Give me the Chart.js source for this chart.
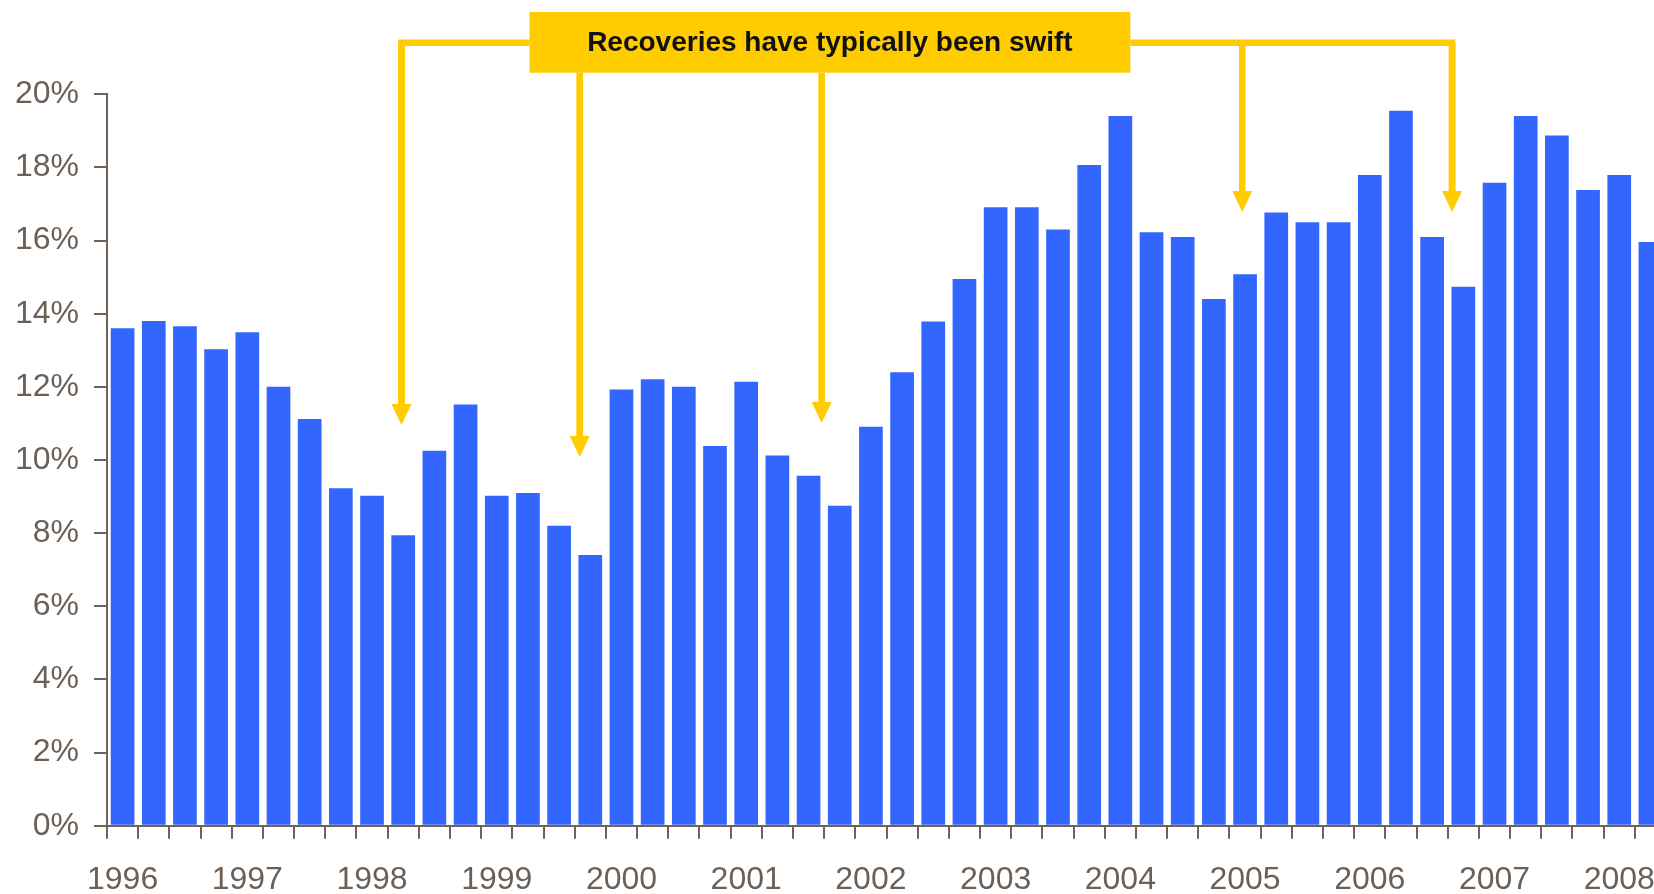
<!DOCTYPE html>
<html>
<head>
<meta charset="utf-8">
<title>Recoveries have typically been swift</title>
<script src="https://cdn.jsdelivr.net/npm/chart.js@4.4.1/dist/chart.umd.min.js"></script>
<style>
  html, body { margin: 0; padding: 0; background: #fff; overflow: hidden; }
  #wrap { position: relative; width: 1666px; height: 894px; }
</style>
</head>
<body>
<div id="wrap"><canvas id="mycanvas"></canvas></div>
<script>
// quarterly categories, 1996 Q1 .. 2008 Q2 (last bar is cut by the picture edge)
var categories = [
  '1996 Q1','1996 Q2','1996 Q3','1996 Q4',
  '1997 Q1','1997 Q2','1997 Q3','1997 Q4',
  '1998 Q1','1998 Q2','1998 Q3','1998 Q4',
  '1999 Q1','1999 Q2','1999 Q3','1999 Q4',
  '2000 Q1','2000 Q2','2000 Q3','2000 Q4',
  '2001 Q1','2001 Q2','2001 Q3','2001 Q4',
  '2002 Q1','2002 Q2','2002 Q3','2002 Q4',
  '2003 Q1','2003 Q2','2003 Q3','2003 Q4',
  '2004 Q1','2004 Q2','2004 Q3','2004 Q4',
  '2005 Q1','2005 Q2','2005 Q3','2005 Q4',
  '2006 Q1','2006 Q2','2006 Q3','2006 Q4',
  '2007 Q1','2007 Q2','2007 Q3','2007 Q4',
  '2008 Q1','2008 Q2'
];

var values = [
  13.6, 13.8, 13.66, 13.03,
  13.49, 12.0, 11.12, 9.23,
  9.02, 7.94, 10.25, 11.52,
  9.02, 9.1, 8.2, 7.4,
  11.93, 12.21, 12.0, 10.38,
  12.14, 10.12, 9.57, 8.75,
  10.91, 12.4, 13.79, 14.95,
  16.91, 16.91, 16.3, 18.07,
  19.41, 16.23, 16.1, 14.4,
  15.08, 16.77, 16.5, 16.5,
  17.79, 19.55, 16.1, 14.74,
  17.58, 19.41, 18.87, 17.38,
  17.79, 15.96
];

var yearTicks = ['1996','1997','1998','1999','2000','2001','2002','2003','2004','2005','2006','2007','2008'];
var yTicks = [0, 2, 4, 6, 8, 10, 12, 14, 16, 18, 20];

// callout: positions in category index / percent units
var calloutText = 'Recoveries have typically been swift';
var calloutBox = { from: 13.05, to: 32.32, top: 22.25, bottom: 20.59 };
var calloutLineY = 21.41;
var arrowsFromLine = [ { x: 8.945, tip: 10.96 }, { x: 35.91, tip: 16.78 }, { x: 42.64, tip: 16.78 } ];
var arrowsFromBox = [ { x: 14.66, tip: 10.08 }, { x: 22.42, tip: 11.01 } ];

var axisColor = '#6e6259';
var textColor = '#6b5f56';
var yellow = '#ffcc00';

var callout = {
  id: 'callout',
  afterDraw: function(chart) {
    var ctx = chart.ctx;
    var xs = chart.scales.x, ys = chart.scales.y;
    var bx1 = xs.getPixelForValue(calloutBox.from), bx2 = xs.getPixelForValue(calloutBox.to);
    var by1 = ys.getPixelForValue(calloutBox.top), by2 = ys.getPixelForValue(calloutBox.bottom);
    var ly = ys.getPixelForValue(calloutLineY);
    var head = 21, half = 10;

    ctx.save();
    ctx.strokeStyle = yellow;
    ctx.fillStyle = yellow;
    ctx.lineWidth = 6.6;
    ctx.lineJoin = 'miter';

    function arrow(x, yStart, tipVal) {
      var tip = ys.getPixelForValue(tipVal);
      ctx.beginPath();
      ctx.moveTo(x, yStart);
      ctx.lineTo(x, tip - head + 1);
      ctx.stroke();
      ctx.beginPath();
      ctx.moveTo(x - half, tip - head);
      ctx.lineTo(x + half, tip - head);
      ctx.lineTo(x, tip);
      ctx.closePath();
      ctx.fill();
    }

    // left connector
    var lx = xs.getPixelForValue(arrowsFromLine[0].x);
    ctx.beginPath();
    ctx.moveTo(bx1, ly);
    ctx.lineTo(lx, ly);
    ctx.lineTo(lx, ys.getPixelForValue(arrowsFromLine[0].tip) - head + 1);
    ctx.stroke();
    arrow(lx, ly, arrowsFromLine[0].tip);

    // right connector
    var rx = xs.getPixelForValue(arrowsFromLine[2].x);
    ctx.beginPath();
    ctx.moveTo(bx2, ly);
    ctx.lineTo(rx, ly);
    ctx.lineTo(rx, ys.getPixelForValue(arrowsFromLine[2].tip) - head + 1);
    ctx.stroke();
    arrow(rx, ly, arrowsFromLine[2].tip);
    arrow(xs.getPixelForValue(arrowsFromLine[1].x), ly, arrowsFromLine[1].tip);

    arrowsFromBox.forEach(function(a) {
      arrow(xs.getPixelForValue(a.x), by2, a.tip);
    });

    // box + text
    ctx.fillRect(bx1, by1, bx2 - bx1, by2 - by1);
    ctx.fillStyle = '#111';
    ctx.font = 'bold 28px "Liberation Sans", Arial, sans-serif';
    ctx.textAlign = 'center';
    ctx.textBaseline = 'middle';
    ctx.fillText(calloutText, (bx1 + bx2) / 2, (by1 + by2) / 2 + 1);
    ctx.restore();
  }
};

var ctx = document.getElementById('mycanvas');

var barGraph = new Chart(ctx, {
  type: 'bar',
  data: {
    labels: categories,
    datasets: [{
      label: 'Share',
      data: values,
      backgroundColor: '#3366ff',
      borderWidth: 0,
      barPercentage: 0.76,
      categoryPercentage: 1.0
    }]
  },
  options: {
    responsive: true,
    maintainAspectRatio: false,
    animation: false,
    layout: { padding: { top: 94.3, left: 0, right: 0, bottom: 0 } },
    plugins: {
      legend: { display: false },
      tooltip: { enabled: false }
    },
    scales: {
      x: {
        offset: true,
        border: { display: true, color: axisColor, width: 2 },
        grid: {
          offset: true,
          drawOnChartArea: false,
          drawTicks: true,
          tickLength: 13,
          color: axisColor,
          lineWidth: 2
        },
        ticks: {
          autoSkip: false,
          maxRotation: 0,
          minRotation: 0,
          padding: 22,
          color: textColor,
          font: { family: '"Liberation Sans", Arial, sans-serif', size: 32, lineHeight: 1.2 },
          callback: function(value, index) {
            return index % 4 === 0 ? yearTicks[index / 4] : '';
          }
        },
        afterFit: function(scale) {
          scale.height = 68.3;
          scale.paddingLeft = 0;
          scale.paddingRight = 0;
        }
      },
      y: {
        min: yTicks[0],
        max: yTicks[yTicks.length - 1],
        border: { display: true, color: axisColor, width: 2 },
        grid: {
          drawOnChartArea: false,
          drawTicks: true,
          tickLength: 13,
          color: axisColor,
          lineWidth: 2
        },
        afterBuildTicks: function(scale) {
          scale.ticks = yTicks.map(function(v) { return { value: v }; });
        },
        ticks: {
          padding: 15,
          color: textColor,
          font: { family: '"Liberation Sans", Arial, sans-serif', size: 32 },
          callback: function(value) { return value + '%'; }
        },
        afterFit: function(scale) {
          scale.width = 107;
          scale.paddingTop = 0;
          scale.paddingBottom = 0;
        }
      }
    }
  },
  plugins: [callout]
});
</script>
</body>
</html>
